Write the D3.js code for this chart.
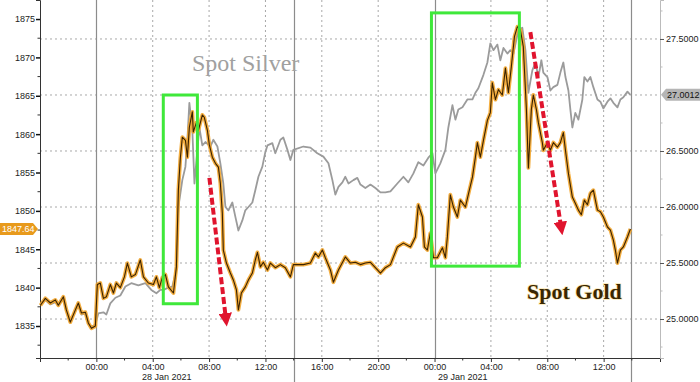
<!DOCTYPE html>
<html>
<head>
<meta charset="utf-8">
<script src="https://cdn.jsdelivr.net/npm/d3@7"></script>
<style>
  body { margin: 0; background: #fff; }
  svg { display: block; }
</style>
</head>
<body>
<div id="chart"></div>
<script>
// hours counted from 00:00 28 Jan 2021, gold in USD (left axis)
const goldSeries = [[-3.97,1837.7],[-3.62,1838.6],[-3.26,1838.0],[-2.91,1838.4],[-2.70,1837.7],[-2.34,1838.8],[-2.13,1837.1],[-1.85,1835.5],[-1.49,1837.1],[-1.28,1838.0],[-1.06,1836.7],[-0.78,1836.8],[-0.57,1835.4],[-0.35,1834.7],[-0.07,1835.0],[0.07,1840.4],[0.28,1840.6],[0.50,1838.6],[0.71,1838.8],[0.99,1840.4],[1.21,1839.3],[1.42,1840.6],[1.70,1840.0],[1.99,1841.4],[2.20,1843.2],[2.48,1841.4],[2.77,1841.7],[3.12,1843.6],[3.34,1841.4],[3.69,1840.6],[4.05,1840.4],[4.26,1841.4],[4.47,1840.0],[4.68,1841.3],[4.90,1841.7],[5.11,1840.1],[5.47,1839.3],[5.68,1842.7],[5.82,1852.7],[5.96,1856.9],[6.10,1859.6],[6.32,1859.2],[6.46,1857.0],[6.60,1860.9],[6.81,1862.9],[6.88,1860.3],[7.10,1861.5],[7.24,1860.5],[7.52,1862.5],[7.66,1862.2],[7.88,1860.5],[8.02,1858.6],[8.23,1857.0],[8.45,1856.2],[8.66,1855.7],[8.80,1853.6],[8.94,1849.7],[9.01,1844.9],[9.23,1843.2],[9.51,1841.9],[9.72,1841.0],[9.94,1839.7],[10.08,1837.1],[10.29,1839.3],[10.57,1840.1],[10.79,1841.0],[11.07,1841.9],[11.28,1843.6],[11.43,1844.6],[11.64,1842.7],[11.85,1843.3],[12.14,1842.3],[12.35,1843.2],[12.70,1842.6],[13.06,1843.0],[13.41,1842.6],[13.77,1841.4],[13.98,1843.0],[14.69,1843.0],[15.19,1843.2],[15.54,1844.5],[15.76,1844.0],[16.04,1844.9],[16.25,1843.9],[16.61,1842.3],[16.82,1840.7],[17.18,1842.3],[17.67,1844.0],[18.03,1843.2],[18.38,1843.3],[18.74,1843.0],[19.09,1843.2],[19.45,1843.3],[19.80,1842.6],[20.16,1841.9],[20.51,1842.6],[20.87,1843.0],[21.36,1845.3],[21.79,1845.8],[22.29,1845.3],[22.64,1846.6],[22.85,1850.8],[23.14,1849.2],[23.28,1845.3],[23.49,1844.9],[23.70,1847.1],[23.92,1843.9],[24.20,1843.9],[24.56,1845.2],[24.77,1843.9],[24.91,1846.6],[25.12,1852.1],[25.34,1850.5],[25.62,1849.2],[25.83,1851.4],[26.19,1850.5],[26.47,1852.7],[26.69,1854.4],[26.90,1857.0],[27.04,1858.9],[27.25,1857.0],[27.47,1859.2],[27.75,1861.8],[27.96,1862.8],[28.10,1866.7],[28.32,1864.5],[28.53,1865.8],[28.81,1865.1],[29.03,1868.6],[29.24,1865.4],[29.45,1868.8],[29.67,1872.7],[29.88,1874.0],[30.09,1873.6],[30.30,1871.4],[30.52,1863.2],[30.66,1855.6],[30.87,1863.2],[31.01,1865.1],[31.23,1863.2],[31.37,1861.5],[31.65,1858.9],[31.72,1857.9],[32.01,1858.9],[32.22,1857.9],[32.43,1858.9],[32.72,1858.3],[32.93,1858.9],[33.14,1860.2],[33.29,1857.9],[33.50,1854.9],[33.78,1851.8],[33.99,1851.0],[34.21,1850.1],[34.42,1849.5],[34.63,1851.4],[34.85,1850.8],[35.06,1852.3],[35.27,1852.7],[35.56,1850.1],[35.77,1849.9],[35.98,1849.2],[36.27,1847.9],[36.48,1847.5],[36.69,1846.2],[36.83,1844.9],[36.98,1843.2],[37.19,1844.9],[37.40,1845.3],[37.69,1846.6],[37.90,1847.64]];

// silver in USD (right axis)
const silverSeries = [[-3.97,25.13],[-3.62,25.17],[-3.26,25.13],[-2.91,25.15],[-2.70,25.12],[-2.34,25.18],[-2.13,25.07],[-1.85,24.97],[-1.49,25.07],[-1.28,25.13],[-1.06,25.04],[-0.78,25.05],[-0.57,24.96],[-0.35,24.93],[-0.07,24.95],[0.14,25.05],[0.50,25.06],[0.71,25.04],[0.99,25.14],[1.35,25.19],[1.70,25.21],[2.06,25.29],[2.48,25.32],[2.98,25.30],[3.48,25.32],[3.90,25.26],[4.26,25.23],[4.54,25.26],[4.76,25.26],[5.11,25.28],[5.39,25.29],[5.68,25.44],[5.82,26.00],[6.10,26.24],[6.32,26.36],[6.46,26.60],[6.60,26.93],[6.81,26.69],[6.96,26.21],[7.17,26.51],[7.31,26.71],[7.52,26.55],[7.74,26.58],[8.09,26.54],[8.30,26.60],[8.59,26.54],[8.80,26.39],[9.01,26.21],[9.16,26.00],[9.37,25.97],[9.65,26.04],[9.87,25.91],[10.08,25.79],[10.36,25.88],[10.57,25.97],[10.79,26.00],[11.07,26.04],[11.28,26.15],[11.50,26.27],[11.78,26.36],[11.99,26.49],[12.14,26.55],[12.49,26.57],[12.70,26.48],[13.06,26.60],[13.27,26.62],[13.56,26.51],[13.77,26.42],[13.98,26.51],[14.69,26.54],[15.19,26.53],[15.68,26.48],[16.11,26.45],[16.47,26.39],[16.75,26.24],[16.96,26.11],[17.18,26.18],[17.46,26.22],[17.67,26.27],[17.89,26.21],[18.24,26.24],[18.52,26.26],[18.74,26.20],[19.09,26.17],[19.45,26.20],[19.80,26.17],[20.16,26.13],[20.51,26.13],[20.87,26.14],[21.36,26.21],[21.79,26.27],[22.14,26.22],[22.50,26.30],[22.85,26.40],[23.21,26.37],[23.56,26.44],[23.85,26.48],[24.06,26.30],[24.41,26.39],[24.77,26.51],[24.98,26.71],[25.27,26.91],[25.48,26.78],[25.69,26.87],[25.98,26.89],[26.33,26.96],[26.69,26.96],[26.90,27.02],[27.11,27.06],[27.47,27.18],[27.75,27.29],[27.96,27.46],[28.18,27.40],[28.46,27.45],[28.67,27.31],[28.89,27.42],[29.17,27.37],[29.38,27.40],[29.60,27.37],[29.95,27.58],[30.23,27.60],[30.45,27.40],[30.66,27.02],[30.94,27.22],[31.16,27.29],[31.37,27.16],[31.58,27.31],[31.72,27.20],[32.01,27.16],[32.22,27.04],[32.43,27.07],[32.72,27.09],[32.93,27.20],[33.14,27.29],[33.29,27.16],[33.50,27.04],[33.64,26.87],[33.78,26.71],[33.99,26.84],[34.21,26.78],[34.49,26.96],[34.63,27.16],[34.85,27.12],[35.06,27.16],[35.27,27.07],[35.56,26.96],[35.77,26.94],[35.98,26.88],[36.27,26.94],[36.48,26.97],[36.69,26.93],[36.98,26.89],[37.19,26.96],[37.40,26.98],[37.69,27.03],[37.90,27.0012]];

const goldTicks = [1835,1840,1845,1850,1855,1860,1865,1870,1875];
const silverTicks = [25.0,25.5,26.0,26.5,27.0,27.5];
const dateLabels = [[5,"28 Jan 2021"],[26,"29 Jan 2021"]];
const solidHours = [0,14,24,37.95];
const goldLast = 1847.64;
const silverLast = 27.0012;
// annotation boxes [h0,h1,gold0,gold1] and arrows [h0,gold0,h1,gold1]
const boxes = [[4.75,7.17,1837.9,1865.1],[23.78,30.02,1842.8,1875.8]];
const arrows = [[8.02,1854.3,9.2,1835.8],[30.8,1873.3,33.0,1847.7]];

const width = 700, height = 382;
const plotLeft = 40, plotRight = 660, plotTop = 0, plotBottom = 358;
const base = new Date(2021,0,28,0,0,0);
const toDate = h => new Date(base.getTime() + h*3600000);

const svg = d3.select('#chart').append('svg')
    .attr('width',width).attr('height',height)
    .style('font-family','"Liberation Sans", Arial, sans-serif');

const xScale = d3.scaleTime()
    .domain([toDate(-4), toDate(40)])
    .range([plotLeft,plotRight]);
const yGold = d3.scaleLinear()
    .domain([1830.83,1877.48])
    .range([plotBottom,plotTop]);
const ySilver = d3.scaleLinear()
    .domain([24.652,27.848])
    .range([plotBottom,plotTop]);

// grid
const hourTicks = d3.range(-4,41,4).filter(h => h % 24 != 0);
svg.append('g').selectAll('line')
    .data(silverTicks)
    .enter().append('line')
    .attr('x1',plotLeft).attr('x2',plotRight)
    .attr('y1',d => ySilver(d)).attr('y2',d => ySilver(d))
    .attr('stroke','#a8a8a8').attr('stroke-dasharray','2,3');
svg.append('g').selectAll('line')
    .data(hourTicks.filter(h => h > -4 && h < 40))
    .enter().append('line')
    .attr('x1',d => xScale(toDate(d))).attr('x2',d => xScale(toDate(d)))
    .attr('y1',plotTop).attr('y2',plotBottom)
    .attr('stroke','#a8a8a8').attr('stroke-dasharray','2,3');
svg.append('g').selectAll('line')
    .data(solidHours)
    .enter().append('line')
    .attr('x1',d => Math.round(xScale(toDate(d)))+0.5).attr('x2',d => Math.round(xScale(toDate(d)))+0.5)
    .attr('y1',plotTop).attr('y2',d => (d == 14 || d > 37) ? height : plotBottom)
    .attr('stroke','#8c8c8c').attr('stroke-width',1.2);

// axes
const xAxis = d3.axisBottom(xScale)
    .tickValues(d3.range(0,40,4).map(toDate))
    .tickFormat(d3.timeFormat('%H:%M'))
    .tickSize(4);
const gx = svg.append('g').attr('transform','translate(0,'+plotBottom+')').call(xAxis);
gx.selectAll('text').attr('dy','0.55em').attr('font-size','9px').attr('fill','#222');
gx.select('.domain').attr('stroke','#333');
gx.selectAll('.tick line').attr('stroke','#333');
svg.append('g').attr('transform','translate(0,'+plotBottom+')')
    .selectAll('line').data(d3.range(-2,40,4))
    .enter().append('line')
    .attr('x1',d => xScale(toDate(d))).attr('x2',d => xScale(toDate(d)))
    .attr('y1',0).attr('y2',2.5).attr('stroke','#333');
svg.append('g').selectAll('text')
    .data(dateLabels)
    .enter().append('text')
    .attr('x',d => xScale(toDate(d[0])))
    .attr('y',380)
    .attr('text-anchor','middle')
    .attr('font-size','9px').attr('fill','#222')
    .text(d => d[1]);

const gyl = svg.append('g').attr('transform','translate('+plotLeft+',0)')
    .call(d3.axisLeft(yGold).tickValues(goldTicks).tickFormat(d3.format('d')).tickSize(4));
gyl.selectAll('text').attr('font-size','9px').attr('fill','#222').attr('x',-5);
gyl.select('.domain').attr('stroke','#333');
gyl.selectAll('.tick line').attr('stroke','#111').attr('stroke-width',1.5);
svg.append('g').attr('transform','translate('+plotLeft+',0)')
    .selectAll('line').data(d3.range(1832.5,1877,5))
    .enter().append('line')
    .attr('x1',-2.5).attr('x2',0)
    .attr('y1',d => yGold(d)).attr('y2',d => yGold(d)).attr('stroke','#333');

const gyr = svg.append('g').attr('transform','translate('+plotRight+',0)')
    .call(d3.axisRight(ySilver).tickValues(silverTicks.filter(d => d != 27)).tickFormat(d3.format('.4f')).tickSize(4));
gyr.selectAll('text').attr('font-size','9px').attr('fill','#222').attr('x',6);
gyr.select('.domain').attr('stroke','#bbb');
gyr.selectAll('.tick line').attr('stroke','#555');
svg.append('g').attr('transform','translate('+plotRight+',0)')
    .selectAll('line').data(d3.range(24.75,27.8,0.5))
    .enter().append('line')
    .attr('x1',0).attr('x2',2.5)
    .attr('y1',d => ySilver(d)).attr('y2',d => ySilver(d)).attr('stroke','#bbb');

// lines
const silverLine = d3.line()
    .x(d => xScale(toDate(d[0])))
    .y(d => ySilver(d[1]));
const goldLine = d3.line()
    .x(d => xScale(toDate(d[0])))
    .y(d => yGold(d[1]));

svg.append('path').datum(silverSeries)
    .attr('d',silverLine)
    .attr('fill','none').attr('stroke','#9b9b9b').attr('stroke-width',1.8)
    .attr('stroke-linejoin','round');
svg.append('path').datum(goldSeries)
    .attr('d',goldLine)
    .attr('fill','none').attr('stroke','#f2a52c').attr('stroke-width',3.8)
    .attr('stroke-linejoin','round').attr('opacity',0.9);
svg.append('path').datum(goldSeries)
    .attr('d',goldLine)
    .attr('fill','none').attr('stroke','#3a2200').attr('stroke-width',1.1)
    .attr('stroke-linejoin','round');

// last value labels
const gy = yGold(goldLast);
svg.append('path')
    .attr('d','M0,'+(gy-6)+' L33,'+(gy-6)+' L38,'+gy+' L33,'+(gy+6)+' L0,'+(gy+6)+' Z')
    .attr('fill','#e89a1c');
svg.append('text')
    .attr('x',2).attr('y',gy+3.2)
    .attr('font-size','9px').attr('fill','#fff')
    .text(d3.format('.2f')(goldLast));
const sy = ySilver(silverLast);
svg.append('path')
    .attr('d','M661,'+sy+' L666,'+(sy-6)+' L700,'+(sy-6)+' L700,'+(sy+6)+' L666,'+(sy+6)+' Z')
    .attr('fill','#b5b5b5');
svg.append('text')
    .attr('x',667).attr('y',sy+3.2)
    .attr('font-size','9px').attr('fill','#111')
    .text(d3.format('.4f')(silverLast));

// green boxes
svg.append('g').selectAll('rect')
    .data(boxes)
    .enter().append('rect')
    .attr('x',d => xScale(toDate(d[0])))
    .attr('width',d => xScale(toDate(d[1])) - xScale(toDate(d[0])))
    .attr('y',d => yGold(d[3]))
    .attr('height',d => yGold(d[2]) - yGold(d[3]))
    .attr('fill','none').attr('stroke','#3fe83a').attr('stroke-width',3);

// red arrows
const defs = svg.append('defs');
defs.append('marker')
    .attr('id','head').attr('viewBox','0 0 10 10')
    .attr('refX',5).attr('refY',5)
    .attr('markerWidth',3.4).attr('markerHeight',3.4)
    .attr('orient','auto')
    .append('path').attr('d','M0,0 L10,5 L0,10 Z').attr('fill','#e0142e');
svg.append('g').selectAll('line')
    .data(arrows)
    .enter().append('line')
    .attr('x1',d => xScale(toDate(d[0]))).attr('y1',d => yGold(d[1]))
    .attr('x2',d => xScale(toDate(d[2]))).attr('y2',d => yGold(d[3]))
    .attr('stroke','#e0142e').attr('stroke-width',4)
    .attr('stroke-dasharray','7,3')
    .attr('marker-end','url(#head)');

// titles
svg.append('text')
    .attr('x',192).attr('y',71)
    .attr('font-family','"Liberation Serif", "DejaVu Serif", serif')
    .attr('font-size','24px').attr('fill','#a0a0a0')
    .text('Spot Silver');
svg.append('text')
    .attr('x',527).attr('y',299)
    .attr('font-family','"Liberation Serif", "DejaVu Serif", serif')
    .attr('font-size','22px').attr('font-weight','bold')
    .attr('fill','#3a2600')
    .attr('stroke','#fbe9b8').attr('stroke-width',1.6)
    .attr('paint-order','stroke')
    .text('Spot Gold');
</script>
</body>
</html>
